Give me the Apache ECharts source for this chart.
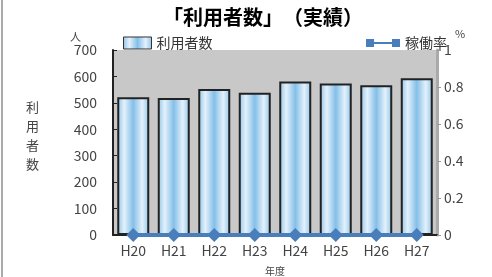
<!DOCTYPE html>
<html><head><meta charset="utf-8">
<script src="https://cdn.jsdelivr.net/npm/echarts@6/dist/echarts.min.js"></script>
<style>html,body{margin:0;padding:0;background:#fff}#c{width:492px;height:277px}</style>
</head><body><div id="c"></div>
<script>
const categories = ['H20','H21','H22','H23','H24','H25','H26','H27'];
const users = [521, 518, 552, 538, 581, 573, 567, 593];
const rate = [0, 0, 0, 0, 0, 0, 0, 0];
const font = '"Noto Sans CJK JP", "Noto Sans", sans-serif';
const chart = echarts.init(document.getElementById('c'));
const barColor = new echarts.graphic.LinearGradient(0,0,1,0,[
  {offset:0,color:'#8ec4ea'},
  {offset:0.22,color:'#e4f1fb'},
  {offset:0.5,color:'#84bfe8'},
  {offset:0.78,color:'#e4f1fb'},
  {offset:1,color:'#8ec4ea'}
]);
chart.setOption({
  animation:false,
  textStyle:{fontFamily:font},
  title:{text:'「利用者数」　（実績）',left:258,top:2,textAlign:'center',
    textStyle:{fontSize:20,fontWeight:'bold',color:'#000',fontFamily:font}},
  legend:[
    {data:[{name:'利用者数',icon:'rect'}],left:118,top:31,itemWidth:28,itemHeight:12,itemGap:4,
      itemStyle:{borderColor:'#333',borderWidth:1},
      textStyle:{fontSize:14,color:'#333',fontFamily:font}},
    {data:[{name:'稼働率',icon:'path://M0,0H8V8H0ZM8,3H26V5H8ZM26,0H34V8H26Z',
      itemStyle:{color:'#4a7ebb'}}],left:361,top:31,itemWidth:34,itemHeight:9,itemGap:4,
      textStyle:{fontSize:14,color:'#333',fontFamily:font}}
  ],
  grid:{left:113,right:55,top:50,bottom:42,show:true,backgroundColor:'#c8c8c8',borderWidth:0,
    outerBoundsMode:'none',containLabel:false},
  xAxis:{type:'category',data:categories,
    axisLine:{lineStyle:{color:'#222',width:2}},
    axisTick:{show:false},
    axisLabel:{fontSize:14,color:'#444',margin:9,fontFamily:font},
    name:'年度',nameLocation:'middle',nameGap:31,
    nameTextStyle:{fontSize:10,color:'#444',fontFamily:font}},
  yAxis:[
    {type:'value',min:0,max:700,interval:100,
      axisLine:{show:true,lineStyle:{color:'#222',width:2}},
      axisTick:{show:true,inside:true,length:4,lineStyle:{color:'#222'}},
      splitLine:{show:false},
      axisLabel:{fontSize:14,color:'#444',margin:16,fontFamily:font},
      name:'人',nameLocation:'end',nameGap:8,
      nameTextStyle:{fontSize:11,color:'#444',align:'right',padding:[0,32,0,0]}},
    {type:'value',min:0,max:1,interval:0.2,
      axisLine:{show:true,lineStyle:{color:'#aaa',width:3}},
      axisTick:{show:true,length:4,lineStyle:{color:'#999'}},
      splitLine:{show:false},
      axisLabel:{fontSize:14,color:'#444',margin:7,fontFamily:font,
        formatter:v=>String(+v.toFixed(1))},
      name:'%',nameLocation:'end',nameGap:11,
      nameTextStyle:{fontSize:11,color:'#444',align:'left',padding:[0,0,0,18]}}
  ],
  graphic:[{type:'text',left:26,top:98,style:{text:'利\n用\n者\n数',fontSize:13,lineHeight:19,fill:'#444',fontFamily:font}}],
  series:[
    {name:'利用者数',type:'bar',data:users,barWidth:'79%',yAxisIndex:0,
      itemStyle:{color:barColor,borderColor:'#222',borderWidth:2}},
    {name:'稼働率',type:'line',data:rate,yAxisIndex:1,
      symbol:'diamond',symbolSize:14,
      lineStyle:{color:'#4a7ebb',width:4},
      itemStyle:{color:'#4a7ebb'}}
  ]
});
</script>
<div style="position:absolute;left:1px;top:0;width:2px;height:277px;background:#aaa"></div>
</body></html>
